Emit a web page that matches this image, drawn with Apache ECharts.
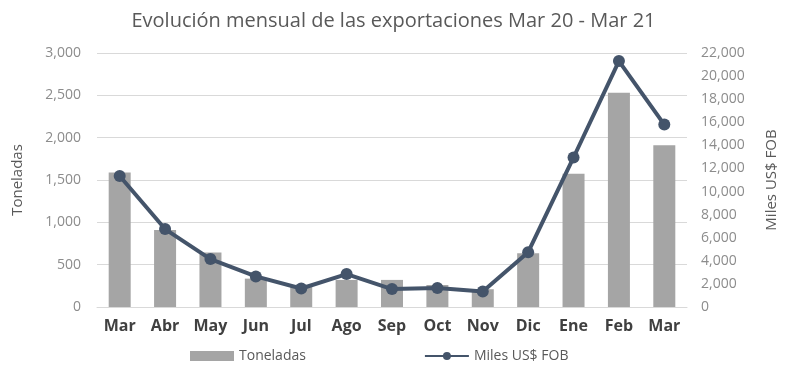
<!DOCTYPE html>
<html>
<head>
<meta charset="utf-8">
<script src="https://cdn.jsdelivr.net/npm/echarts@6/dist/echarts.min.js"></script>
<style>
  html, body { margin: 0; padding: 0; background: #fff; }
  #chart { width: 787px; height: 369px; }
</style>
</head>
<body>
<div id="chart"></div>
<script>
// Monthly exports, March 2020 to March 2021
const months = ['Mar', 'Abr', 'May', 'Jun', 'Jul', 'Ago', 'Sep', 'Oct', 'Nov', 'Dic', 'Ene', 'Feb', 'Mar'];
const toneladas = [1590, 910, 645, 335, 250, 320, 320, 260, 210, 635, 1575, 2530, 1910];
const milesFob = [11350, 6750, 4150, 2650, 1600, 2850, 1550, 1650, 1350, 4750, 12950, 21300, 15800];

const font = 'Open Sans';
const chart = echarts.init(document.getElementById('chart'));
chart.setOption({
  backgroundColor: '#ffffff',
  animation: false,
  title: {
    text: 'Evolución mensual de las exportaciones Mar 20 - Mar 21',
    left: 'center',
    top: 6,
    textStyle: { fontFamily: font, fontSize: 20, fontWeight: 'normal', color: '#595959' }
  },
  legend: {
    bottom: 1,
    left: 185,
    itemGap: 118,
    itemWidth: 44,
    itemHeight: 10,
    textStyle: { fontFamily: font, fontSize: 14, color: '#595959' },
    data: [
      { name: 'Toneladas', icon: 'rect' },
      { name: 'Miles US$ FOB' }
    ]
  },
  grid: { left: 97, right: 100, top: 53, bottom: 62 },
  xAxis: {
    type: 'category',
    data: months,
    axisLine: { lineStyle: { color: '#d9d9d9' } },
    axisTick: { show: false },
    axisLabel: { fontFamily: font, fontSize: 16, fontWeight: 'bold', color: '#404040', margin: 11 }
  },
  yAxis: [
    {
      type: 'value',
      min: 0, max: 3000, interval: 500,
      name: 'Toneladas',
      nameLocation: 'middle',
      nameGap: 72,
      nameRotate: 90,
      nameTextStyle: { fontFamily: font, fontSize: 15, color: '#595959' },
      axisLine: { show: false },
      axisTick: { show: false },
      axisLabel: { fontFamily: font, fontSize: 14, color: '#8c8c8c', margin: 16,
        formatter: v => v.toLocaleString('en-US') },
      splitLine: { lineStyle: { color: '#d9d9d9', width: 1 } }
    },
    {
      type: 'value',
      min: 0, max: 22000, interval: 2000,
      name: 'Miles US$ FOB',
      nameLocation: 'middle',
      nameGap: 77,
      nameRotate: 90,
      nameTextStyle: { fontFamily: font, fontSize: 15, color: '#595959' },
      axisLine: { show: false },
      axisTick: { show: false },
      axisLabel: { fontFamily: font, fontSize: 14, color: '#8c8c8c', margin: 14,
        formatter: v => v.toLocaleString('en-US') },
      splitLine: { show: false }
    }
  ],
  series: [
    {
      name: 'Toneladas',
      type: 'bar',
      yAxisIndex: 0,
      data: toneladas,
      barWidth: 22,
      itemStyle: { color: '#a5a5a5' }
    },
    {
      name: 'Miles US$ FOB',
      type: 'line',
      yAxisIndex: 1,
      data: milesFob,
      symbol: 'circle',
      symbolSize: 12,
      lineStyle: { color: '#44546a', width: 4 },
      itemStyle: { color: '#44546a' }
    }
  ]
});
</script>
</body>
</html>
